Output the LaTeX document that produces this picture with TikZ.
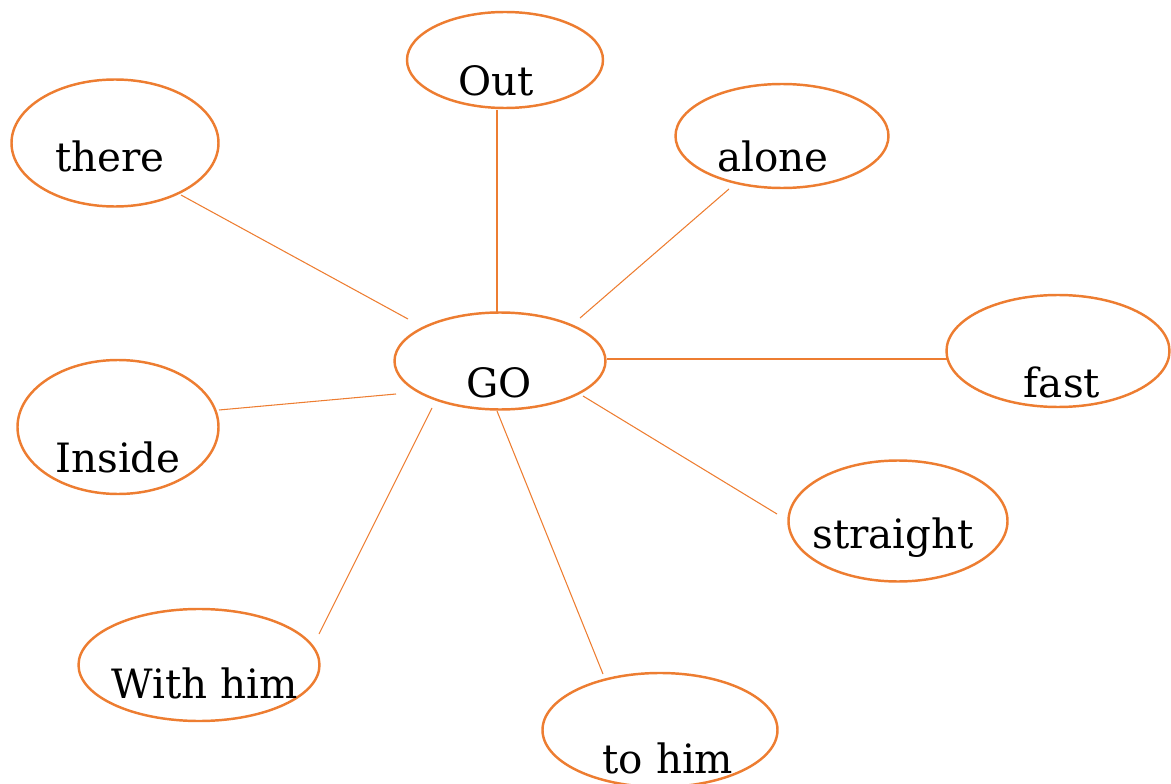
\documentclass[tikz,border=0pt]{standalone}
\usepackage{fontspec}
\setmainfont{DejaVu Serif}
\usetikzlibrary{shapes.geometric}
\definecolor{goorange}{RGB}{237,125,49}

\begin{document}
\begin{tikzpicture}[x=0.02cm,y=-0.02cm,
  bubble/.style n args={2}{ellipse,draw=goorange,line width=1.4pt,inner sep=0pt,
    minimum width=#1*0.02cm,minimum height=#2*0.02cm},
  word/.style={anchor=base,inner sep=0pt,font=\fontsize{23}{27}\selectfont},
  link/.style={draw=goorange,line width=0.6pt}]
\useasboundingbox (0,0) rectangle (1171,784);

% ellipses
\node[bubble={211}{97}] (go) at (500,361) {};
\node[bubble={196}{96}] (out) at (505,60) {};
\node[bubble={207}{127}] (there) at (115,143) {};
\node[bubble={213}{104}] (alone) at (782,136) {};
\node[bubble={223}{112}] (fast) at (1058,351) {};
\node[bubble={201}{134}] (inside) at (118,427) {};
\node[bubble={219}{121}] (straight) at (898,521) {};
\node[bubble={241}{112}] (withhim) at (199,665) {};
\node[bubble={235}{114}] (tohim) at (660,730) {};

% words
\node[word] (go-t) at (499,397) {GO};
\node[word] (out-t) at (496,96) {Out};
\node[word] (there-t) at (110,172) {there};
\node[word] (alone-t) at (773,172) {alone};
\node[word] (fast-t) at (1062,398) {fast};
\node[word] (inside-t) at (118,472) {Inside};
\node[word] (straight-t) at (893,548) {straight};
\node[word] (withhim-t) at (205,698) {With him};
\node[word] (tohim-t) at (668,773) {to him};

% connectors
\draw[link] ([shift={(-3,-49)}]go.center) -- ([shift={(-8,50)}]out.center);
\draw[link] ([shift={(-92,-42)}]go.center) -- ([shift={(66,52)}]there.center);
\draw[link] ([shift={(80,-43)}]go.center) -- ([shift={(-53,53)}]alone.center);
\draw[link] ([shift={(107,-2)}]go.center) -- ([shift={(-111,8)}]fast.center);
\draw[link] ([shift={(83,35)}]go.center) -- ([shift={(-121,-7)}]straight.center);
\draw[link] ([shift={(-3,50)}]go.center) -- ([shift={(-57,-56)}]tohim.center);
\draw[link] ([shift={(-68,47)}]go.center) -- ([shift={(120,-31)}]withhim.center);
\draw[link] ([shift={(-104,33)}]go.center) -- ([shift={(101,-17)}]inside.center);

\end{tikzpicture}
\end{document}
